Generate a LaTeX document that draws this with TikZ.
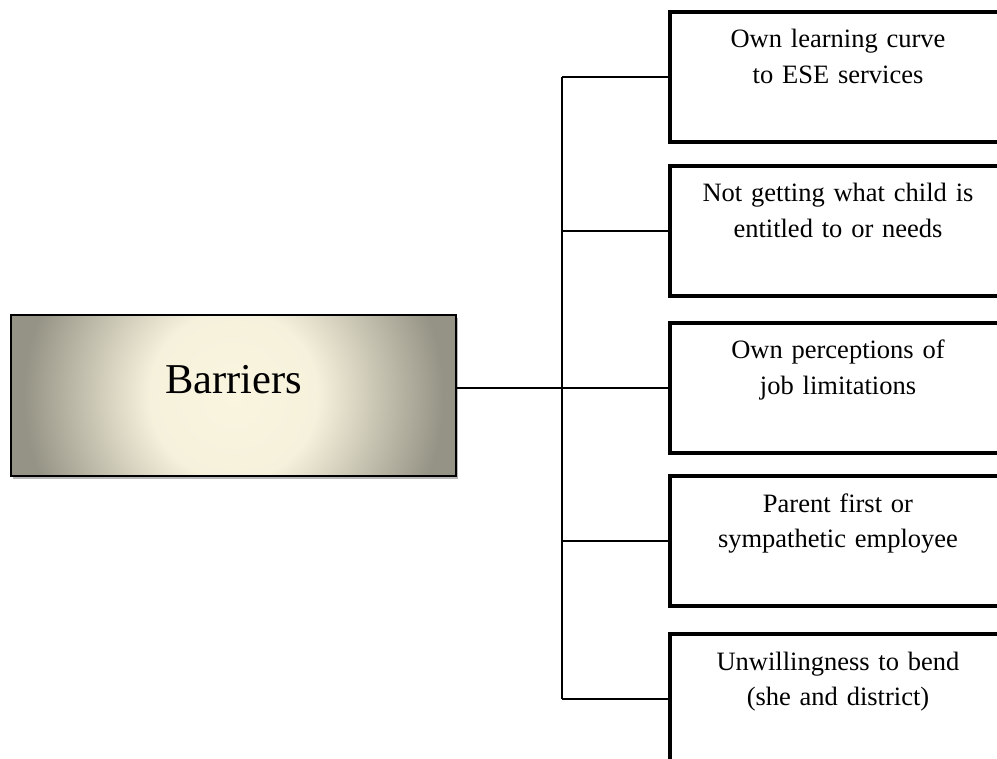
\documentclass[tikz,border=0pt]{standalone}
\usepackage{fontspec}
\setmainfont{Liberation Serif}
\usepackage{tikz}
\usetikzlibrary{positioning,shadows}
\definecolor{glowin}{HTML}{FAF5DF}
\definecolor{glowout}{HTML}{959385}
\pgfdeclareradialshading{barrierglow}{\pgfpoint{0bp}{0bp}}{color(0bp)=(glowin); color(7bp)=(glowin!96!glowout); color(17.5bp)=(glowout); color(50bp)=(glowout)}
\tikzset{rootbox/.style={rectangle, draw=black, line width=1.5pt, fill=glowout, path picture={\shade[shading=barrierglow] ([shift={(-300,-300)}]path picture bounding box.center) rectangle ++(600,600);}, inner sep=0pt, minimum width=445pt, text height=79pt, text depth=82pt, font=\fontsize{42.5}{50}\selectfont, drop shadow={shadow xshift=2pt, shadow yshift=-3pt, opacity=0.4, fill=black!70}}}
\tikzset{leafbox/.style={rectangle, draw=black, line width=4pt, fill=white, inner sep=0pt, text width=336pt, align=center, text height=36pt, text depth=94pt, anchor=north west, font=\fontsize{26.5}{35.7}\selectfont}}
\tikzset{link/.style={line width=1.3pt}}

\begin{document}
\begin{tikzpicture}[x=1pt, y=-1pt]
\useasboundingbox (0,0) rectangle (997,759);
\node[rootbox] (Barr) at (233.5,395.5) {Barriers};
\node[leafbox] (Box1) at (668,10) {Own learning curve\\to ESE services};
\node[leafbox] (Box2) at (668,164) {Not getting what child is\\entitled to or needs};
\node[leafbox] (Box3) at (668,321) {Own perceptions of\\job limitations};
\node[leafbox] (Box4) at (668,474) {Parent first or\\sympathetic employee};
\node[leafbox] (Box5) at (668,632) {Unwillingness to bend\\(she and district)};
\coordinate (Hub) at (562,388);
\draw[link] (Barr.east |- Hub) -- (Hub);
\draw[link] (Hub |- Box1.west) -- (Hub |- Box5.west);
\draw[link] (Hub |- Box1.west) -- (Box1.west);
\draw[link] (Hub |- Box2.west) -- (Box2.west);
\draw[link] (Hub |- Box3.west) -- (Box3.west);
\draw[link] (Hub |- Box4.west) -- (Box4.west);
\draw[link] (Hub |- Box5.west) -- (Box5.west);
\end{tikzpicture}
\end{document}
